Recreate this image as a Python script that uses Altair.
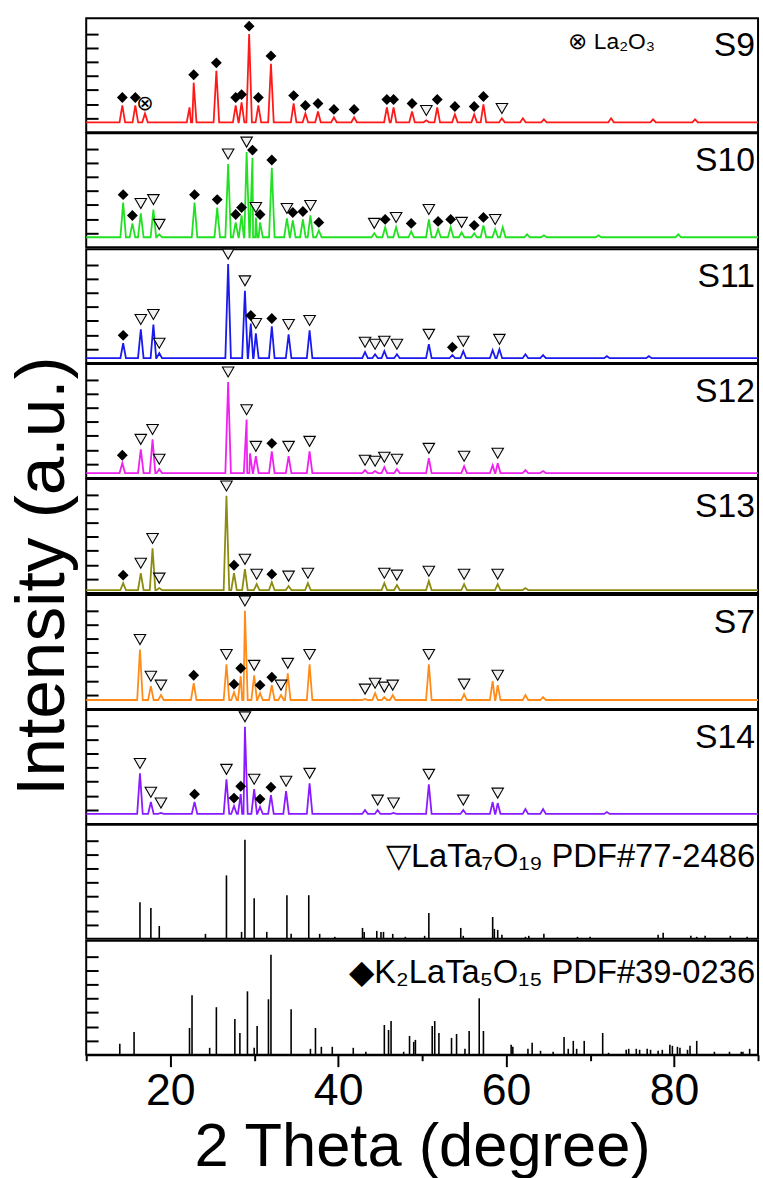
import altair as alt
import pandas as pd

FONT = "Liberation Sans"
W, H = 678, 115
X_DOMAIN = [10, 90]
Y_DOMAIN = [0, 115]
Y_TICKS = [14.2, 28.4, 42.6, 56.8, 71.0, 85.2, 99.4]
X_TICKS = [10, 20, 30, 40, 50, 60, 70, 80, 90]
HALF_WIDTH = 0.33

sample_names = ["S9", "S10", "S11", "S12", "S13", "S7", "S14"]
sample_colors = ["#ff1a1a", "#22e022", "#1a1aee", "#f020f0", "#8c8c10", "#ff8c1a", "#8a1aff"]
sample_baselines = [10, 10, 5, 5, 3, 9, 10]

# (2theta, intensity, phase tag)  D = K2LaTa5O15, T = LaTa7O19, X = La2O3
S9_peaks = [(14.3, 27, "D"), (15.85, 27, "D"), (17.0, 19, "X"), (22.3, 25, ""), (22.8, 50, "D"),
            (25.5, 62, "D"), (27.8, 27, "D"), (28.5, 30, "D"), (29.4, 99, "D"), (30.5, 27, "D"),
            (32.0, 69, "D"), (34.7, 29, "D"), (36.1, 19, "D"), (37.6, 21, "D"), (39.5, 15, "D"),
            (41.9, 15, "D"), (45.8, 25, "D"), (46.6, 25, "D"), (48.8, 21, "D"), (50.5, 12, "T"),
            (51.8, 25, "D"), (53.9, 18, "D"), (56.2, 18, "D"), (57.3, 28, "D"), (59.5, 14, "T"),
            (62.0, 14, ""), (64.5, 13, ""), (72.5, 14, ""), (77.5, 13, ""), (82.5, 13, "")]
S10_peaks = [(14.4, 45, "D"), (15.5, 24, "D"), (16.5, 34, "T"), (18.0, 38, "T"), (18.7, 13, "T"),
             (22.9, 45, "D"), (25.6, 40, "D"), (26.9, 84, "T"), (27.8, 25, "D"), (28.5, 32, "D"),
             (29.1, 96, "T"), (29.8, 90, "D"), (30.2, 30, "T"), (30.7, 25, "D"), (32.1, 80, "D"),
             (33.9, 29, "T"), (34.6, 27, "D"), (35.8, 28, "D"), (36.7, 32, "T"), (37.7, 17, "D"),
             (44.3, 14, "T"), (45.6, 20, "D"), (46.9, 20, "T"), (48.7, 16, "D"), (50.8, 28, "T"),
             (51.9, 18, "D"), (53.4, 20, "D"), (54.7, 15, "T"), (56.2, 14, "D"), (57.3, 22, "D"),
             (58.7, 18, "T"), (59.6, 20, ""), (62.5, 13, ""), (64.5, 12, ""), (71.0, 12, ""), (80.5, 13, "")]
S11_peaks = [(14.4, 20, "D"), (16.5, 34, "T"), (18.0, 39, "T"), (18.7, 10, "T"), (26.9, 100, "T"),
             (28.9, 73, "T"), (29.6, 40, "D"), (30.2, 30, "T"), (32.1, 37, "D"), (34.1, 29, "T"),
             (36.6, 33, "T"), (43.2, 11, "T"), (44.4, 9, "T"), (45.5, 12, "T"), (47.0, 9, "T"),
             (50.8, 19, "T"), (53.6, 8, "D"), (54.9, 12, "T"), (58.4, 13, ""), (59.2, 14, "T"),
             (62.3, 9, ""), (64.4, 8, ""), (72.0, 7, ""), (77.0, 7, "")]
S12_peaks = [(14.3, 15, "D"), (16.5, 29, "T"), (17.9, 39, "T"), (18.7, 9, "T"), (26.9, 97, "T"),
             (29.1, 59, "T"), (29.5, 25, ""), (30.2, 22, "T"), (32.1, 27, "D"), (34.1, 22, "T"),
             (36.6, 27, "T"), (43.2, 8, "T"), (44.4, 7, "T"), (45.5, 11, "T"), (47.0, 9, "T"),
             (50.8, 20, "T"), (55.0, 12, "T"), (58.4, 13, ""), (59.0, 15, "T"), (62.3, 8, ""), (64.4, 7, "")]
S13_peaks = [(14.4, 10, "D"), (16.5, 20, "T"), (17.9, 45, "T"), (18.7, 5, "T"), (26.7, 98, "T"),
             (27.6, 20, "D"), (28.9, 24, "T"), (30.3, 9, "T"), (32.1, 11, "D"), (34.1, 7, "T"),
             (36.4, 10, "T"), (45.5, 10, "T"), (47.0, 8, "T"), (50.8, 12, "T"), (55.0, 9, "T"),
             (59.0, 9, "T"), (62.3, 5, "")]
S7_peaks = [(16.4, 60, "T"), (17.7, 23, "T"), (18.9, 14, "T"), (22.8, 26, "D"), (26.7, 45, "T"),
            (27.6, 17, "D"), (28.4, 33, "D"), (28.9, 99, "T"), (30.0, 34, "T"), (30.7, 16, "D"),
            (32.1, 24, "D"), (33.2, 14, "T"), (34.0, 36, "T"), (36.6, 45, "T"), (43.2, 10, "T"),
            (44.4, 16, "T"), (45.5, 12, "T"), (46.5, 14, "T"), (50.8, 45, "T"), (55.0, 15, "T"),
            (58.4, 28, ""), (59.0, 24, "T"), (62.3, 14, ""), (64.4, 12, "")]
S14_peaks = [(16.4, 51, "T"), (17.7, 22, "T"), (18.9, 11, "T"), (22.9, 22, "D"), (26.7, 45, "T"),
             (27.6, 18, "D"), (28.4, 30, "D"), (28.9, 98, "T"), (30.0, 35, "T"), (30.7, 17, "D"),
             (32.0, 29, "D"), (33.8, 33, "T"), (36.6, 41, "T"), (43.2, 14, ""), (44.7, 14, "T"),
             (46.6, 11, "T"), (50.8, 40, "T"), (54.9, 14, "T"), (58.4, 22, ""), (59.0, 21, "T"),
             (62.3, 15, ""), (64.4, 15, ""), (72.0, 12, "")]
sample_peaks = [S9_peaks, S10_peaks, S11_peaks, S12_peaks, S13_peaks, S7_peaks, S14_peaks]

# standard cards (2theta, relative intensity)
LaTa7O19_card = [(16.4, 37), (17.7, 31), (18.7, 13), (24.2, 5), (26.7, 64), (28.5, 7), (28.9, 100),
                 (30.0, 41), (31.5, 7), (33.9, 44), (34.4, 5), (36.5, 44), (37.8, 5), (39.6, 2),
                 (42.9, 11), (43.1, 7), (44.6, 8), (45.1, 7), (45.4, 7), (46.5, 5), (48.0, 2),
                 (50.3, 3), (50.8, 26), (54.6, 11), (54.9, 3), (58.4, 22), (58.6, 10), (59.0, 9),
                 (59.5, 4), (62.3, 2), (62.7, 3), (64.5, 5), (68.5, 2), (70.0, 2), (78.1, 4),
                 (78.7, 6), (82.0, 3), (82.7, 2), (83.7, 3), (86.7, 3), (88.7, 2)]
K2LaTa5O15_card = [(14.0, 11), (15.7, 23), (22.3, 27), (22.6, 60), (24.7, 7), (25.5, 48), (27.7, 36),
                   (28.3, 22), (29.2, 64), (30.0, 7), (30.35, 29), (31.7, 56), (32.0, 101), (34.4, 46),
                   (36.7, 6), (37.3, 27), (38.0, 8), (39.3, 8), (41.8, 7), (43.3, 3), (45.5, 30),
                   (46.0, 25), (46.3, 34), (47.8, 3), (48.5, 19), (49.0, 13), (49.2, 15), (51.2, 29),
                   (51.5, 34), (52.0, 22), (53.5, 17), (54.1, 21), (55.1, 6), (55.6, 24), (56.8, 57),
                   (57.3, 24), (60.6, 10), (60.8, 8), (62.6, 6), (63.1, 12), (64.1, 4), (65.6, 3),
                   (66.9, 18), (67.4, 6), (68.0, 14), (68.4, 6), (69.3, 14), (71.5, 22), (72.2, 2),
                   (74.3, 5), (74.6, 6), (75.5, 6), (75.9, 5), (76.8, 6), (77.2, 5), (78.1, 4),
                   (78.6, 5), (79.5, 10), (79.8, 9), (80.4, 8), (80.7, 7), (81.6, 5), (81.9, 9),
                   (82.7, 14), (84.8, 3), (86.6, 3), (88.0, 3), (88.2, 3), (89.0, 6)]

card_labels = ["\u25bdLaTa\u2087O\u2081\u2089 PDF#77-2486", "\u25c6K\u2082LaTa\u2085O\u2081\u2085 PDF#39-0236"]
la2o3_label = "\u2297 La\u2082O\u2083"

xscale = alt.Scale(domain=X_DOMAIN, nice=False, zero=False)
yscale = alt.Scale(domain=Y_DOMAIN, nice=False, zero=False)
yaxis = alt.Axis(orient="right", offset=-W, values=Y_TICKS, labels=False, title=None, domain=False,
                 ticks=True, tickSize=12, tickWidth=2, tickColor="black", grid=False)
xaxis_bottom = alt.Axis(values=X_TICKS, labelExpr="datum.value % 20 === 0 ? datum.label : ''",
                        tickSize={"condition": {"test": "datum.value % 20 === 0", "value": 12}, "value": 6},
                        tickWidth=2, tickColor="black", domain=True, domainColor="black", domainWidth=2,
                        labelFontSize=45, labelFont=FONT, labelColor="black", labelBaseline="alphabetic",
                        labelPadding=38, labelFlush=False, labelOverlap=False,
                        title="2 Theta (degree)", titleFontSize=62, titleFont=FONT, titleFontWeight="normal",
                        titleColor="black", titleY=112, titleBaseline="alphabetic", grid=False)


def line_table(peaks, base):
    pts = [(X_DOMAIN[0], base), (X_DOMAIN[1], base)]
    for p, h, _ in peaks:
        pts += [(p - HALF_WIDTH, base), (p, h), (p + HALF_WIDTH, base)]
    pts.sort(key=lambda t: t[0])
    return pd.DataFrame({"x": [a for a, _ in pts], "y": [b for _, b in pts], "o": list(range(len(pts)))})


def peak_table(peaks, tag):
    return pd.DataFrame([{"x": p, "y": h} for p, h, t in peaks if t == tag])


panels = []
for name, color, base, peaks in zip(sample_names, sample_colors, sample_baselines, sample_peaks):
    X = alt.X("x:Q", scale=xscale, axis=None)
    Y = alt.Y("y:Q", scale=yscale, axis=yaxis)
    layers = [
        alt.Chart(line_table(peaks, base)).mark_line(color=color, strokeWidth=1.8).encode(x=X, y=Y, order="o:Q")
    ]
    tri = peak_table(peaks, "T")
    if len(tri):
        layers.append(alt.Chart(tri).mark_point(shape="triangle-down", size=135, filled=True, fill="#f0f0f0",
                                                stroke="black", strokeWidth=1.1, opacity=1, yOffset=-10)
                      .encode(x=X, y=Y))
    dia = peak_table(peaks, "D")
    if len(dia):
        layers.append(alt.Chart(dia).mark_point(shape="diamond", size=120, filled=True, color="black",
                                                opacity=1, yOffset=-8).encode(x=X, y=Y))
    xo = peak_table(peaks, "X")
    if len(xo):
        layers.append(alt.Chart(xo).mark_text(text="\u2297", fontSize=21, font="DejaVu Sans", yOffset=-9,
                                              baseline="middle", color="black").encode(x=X, y=Y))
    layers.append(alt.Chart(pd.DataFrame({"label": [name]})).mark_text(
        align="right", baseline="alphabetic", fontSize=34, font=FONT, color="black").encode(
        x=alt.value(W - 3), y=alt.value(38), text="label:N"))
    if name == "S9":
        layers.append(alt.Chart(pd.DataFrame({"label": [la2o3_label]})).mark_text(
            align="right", baseline="alphabetic", fontSize=23, font=FONT, color="black").encode(
            x=alt.value(574), y=alt.value(31), text="label:N"))
    panels.append(alt.layer(*layers).properties(width=W, height=H))

for i, (card, label) in enumerate(zip([LaTa7O19_card, K2LaTa5O15_card], card_labels)):
    last = i == 1
    X = alt.X("x:Q", scale=xscale, axis=xaxis_bottom if last else None)
    Y = alt.Y("y:Q", scale=yscale, axis=yaxis)
    df = pd.DataFrame({"x": [a for a, _ in card], "y": [b for _, b in card]})
    sticks = alt.Chart(df).mark_rule(color="black", strokeWidth=1.6).encode(x=X, y=Y, y2=alt.datum(0))
    txt = alt.Chart(pd.DataFrame({"label": [label]})).mark_text(
        align="right", baseline="alphabetic", fontSize=33, font=FONT, color="black").encode(
        x=alt.value(W - 3), y=alt.value(43), text="label:N")
    panels.append(alt.layer(sticks, txt).properties(width=W, height=H))

ytitle = alt.Chart(pd.DataFrame({"t": ["Intensity (a.u.)"]})).mark_text(
    angle=270, fontSize=70, font=FONT, baseline="middle", align="center", color="black").encode(
    x=alt.value(44), y=alt.value(563), text="t:N").properties(
    width=82, height=H * 9, view=alt.ViewBackground(stroke="transparent", strokeWidth=0))

chart = alt.hconcat(ytitle, alt.vconcat(*panels, spacing=-3), spacing=0).properties(
    padding={"left": 0, "top": 12, "right": 0, "bottom": 0}, background="white"
).configure_view(stroke="black", strokeWidth=2)

chart.save("out.html", embed_options={"renderer": "svg", "actions": False})
